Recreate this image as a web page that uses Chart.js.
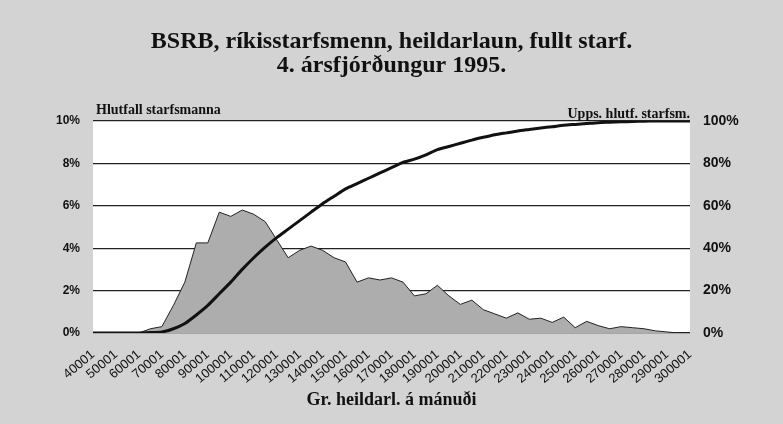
<!DOCTYPE html>
<html>
<head>
<meta charset="utf-8">
<script src="https://cdn.jsdelivr.net/npm/chart.js@4.4.1/dist/chart.umd.min.js"></script>
<style>
    html, body { margin: 0; padding: 0; background: #d3d3d3; }
    canvas { display: block; }
</style>
</head>
<body>
<canvas id="salary-chart" width="783" height="424"></canvas>
<script>

/* Data */
let salaryBands = [
    '40001', '45001', '50001', '55001', '60001', '65001', '70001', '75001', '80001', '85001',
    '90001', '95001', '100001', '105001', '110001', '115001', '120001', '125001', '130001', '135001',
    '140001', '145001', '150001', '155001', '160001', '165001', '170001', '175001', '180001', '185001',
    '190001', '195001', '200001', '205001', '210001', '215001', '220001', '225001', '230001', '235001',
    '240001', '245001', '250001', '255001', '260001', '265001', '270001', '275001', '280001', '285001',
    '290001', '295001', '300001'
]

// share of staff in each band, percent (left axis)
let shareOfStaff = [
    0, 0, 0, 0, 0, 0.2, 0.3, 1.3, 2.4, 4.25,
    4.25, 5.7, 5.5, 5.8, 5.6, 5.25, 4.4, 3.55, 3.9, 4.1,
    3.9, 3.55, 3.35, 2.4, 2.6, 2.5, 2.6, 2.4, 1.75, 1.85,
    2.25, 1.75, 1.35, 1.55, 1.1, 0.9, 0.7, 0.95, 0.65, 0.7,
    0.5, 0.75, 0.25, 0.55, 0.35, 0.2, 0.3, 0.25, 0.2, 0.1,
    0.05, 0, 0
]

// cumulative share of staff, percent (right axis)
let cumulativeShare = [
    0, 0, 0, 0, 0, 0.2, 0.5, 2, 4.5, 8.5,
    13, 18.5, 24, 30, 35.5, 40.5, 45, 49, 53, 57,
    61, 64.5, 68, 70.5, 73, 75.5, 78, 80.5, 82, 84,
    86.5, 88, 89.5, 91, 92.3, 93.5, 94.4, 95.3, 96, 96.7,
    97.3, 98, 98.4, 98.8, 99.2, 99.4, 99.6, 99.8, 99.9, 100,
    100, 100, 100
]

let leftTicks = [0, 2, 4, 6, 8, 10]
let rightTicks = [0, 20, 40, 60, 80, 100]

let chartTitle = ['BSRB, ríkisstarfsmenn, heildarlaun, fullt starf.', '4. ársfjórðungur 1995.']
let leftAxisName = 'Hlutfall starfsmanna'
let rightAxisName = 'Upps. hlutf. starfsm.'
let xAxisName = 'Gr. heildarl. á mánuði'


/* paper background, white plot area, and the two small axis headings */
let paperPlugin = {
    id: 'paper',
    beforeDraw(chart) {
        let c = chart.ctx
        let area = chart.chartArea
        c.save()
        c.fillStyle = '#d3d3d3'
        c.fillRect(0, 0, chart.width, chart.height)
        c.fillStyle = '#ffffff'
        c.fillRect(area.left, area.top, area.right - area.left, area.bottom - area.top)
        c.restore()
    },
    afterDraw(chart) {
        let c = chart.ctx
        let area = chart.chartArea
        c.save()
        c.fillStyle = '#111'
        c.font = 'bold 14px "Liberation Serif"'
        c.textBaseline = 'alphabetic'
        c.textAlign = 'left'
        c.fillText(leftAxisName, area.left + 3, area.top - 7)
        c.textAlign = 'right'
        c.fillText(rightAxisName, area.right, area.top - 3)
        c.restore()
    }
}

let ctx = document.querySelector('#salary-chart').getContext('2d')

let salaryChart = new Chart(ctx, {
    type: 'line',
    data: {
        labels: salaryBands,
        datasets: [
            {
                label: rightAxisName,
                data: cumulativeShare,
                yAxisID: 'y1',
                borderColor: '#111',
                borderWidth: 3,
                pointRadius: 0,
                tension: 0.2,
                fill: false,
                order: 0
            },
            {
                label: leftAxisName,
                data: shareOfStaff,
                yAxisID: 'y',
                borderColor: '#222',
                borderWidth: 1,
                backgroundColor: '#adadad',
                pointRadius: 0,
                tension: 0,
                fill: 'origin',
                order: 1
            }
        ]
    },
    options: {
        responsive: false,
        animation: false,
        layout: { padding: 0 },
        plugins: {
            legend: { display: false },
            tooltip: { enabled: false },
            title: {
                display: true,
                text: chartTitle,
                color: '#111',
                font: { family: 'Liberation Serif', size: 24, weight: 'bold', lineHeight: 1.0 },
                padding: { top: 30, bottom: 43 }
            }
        },
        scales: {
            x: {
                grid: { display: false },
                border: { display: false },
                ticks: {
                    autoSkip: false,
                    maxRotation: 40,
                    minRotation: 40,
                    padding: 6,
                    color: '#111',
                    font: { family: 'Liberation Sans', size: 13 },
                    callback: function(value, index) {
                        return index % 2 === 0 ? this.getLabelForValue(value) : ''
                    }
                },
                title: {
                    display: true,
                    text: xAxisName,
                    color: '#111',
                    font: { family: 'Liberation Serif', size: 18, weight: 'bold' },
                    padding: { top: 0, bottom: 13 }
                },
                afterFit(scale) { scale.height = 91 }
            },
            y: {
                position: 'left',
                min: 0,
                max: 10,
                afterBuildTicks(scale) { scale.ticks = leftTicks.map(v => ({ value: v })) },
                grid: { color: '#222', lineWidth: 1.3, drawTicks: false },
                border: { display: false },
                ticks: {
                    padding: 13,
                    color: '#111',
                    font: { family: 'Liberation Sans', size: 12, weight: 'bold' },
                    callback: v => v + '%'
                },
                afterFit(scale) { scale.width = 93 }
            },
            y1: {
                position: 'right',
                min: 0,
                max: 100,
                afterBuildTicks(scale) { scale.ticks = rightTicks.map(v => ({ value: v })) },
                grid: { display: false, drawTicks: false },
                border: { display: false },
                ticks: {
                    padding: 13,
                    color: '#111',
                    font: { family: 'Liberation Sans', size: 14, weight: 'bold' },
                    callback: v => v + '%'
                },
                afterFit(scale) { scale.width = 93 }
            }
        }
    },
    plugins: [paperPlugin]
})

</script>
</body>
</html>
